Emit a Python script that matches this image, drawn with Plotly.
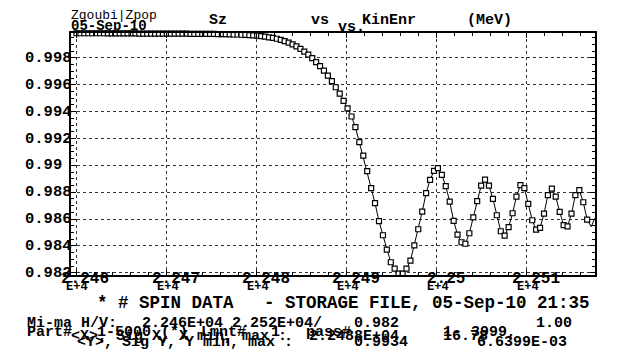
import plotly.graph_objects as go

# ---------------- data ----------------
energy_mev = [
    22460.00, 22460.44, 22460.87, 22461.31, 22461.74, 22462.18, 22462.62, 22463.05, 22463.49, 22463.92,
    22464.36, 22464.80, 22465.23, 22465.67, 22466.11, 22466.54, 22466.98, 22467.41, 22467.85, 22468.29,
    22468.72, 22469.16, 22469.59, 22470.03, 22470.47, 22470.90, 22471.34, 22471.77, 22472.21, 22472.65,
    22473.08, 22473.52, 22473.96, 22474.39, 22474.83, 22475.26, 22475.70, 22476.14, 22476.57, 22477.01,
    22477.44, 22477.88, 22478.32, 22478.75, 22479.19, 22479.62, 22480.06, 22480.50, 22480.93, 22481.37,
    22481.81, 22482.24, 22482.68, 22483.11, 22483.55, 22483.99, 22484.42, 22484.86, 22485.29, 22485.73,
    22486.17, 22486.60, 22487.04, 22487.47, 22487.91, 22488.35, 22488.78, 22489.22, 22489.65, 22490.09,
    22490.53, 22490.96, 22491.40, 22491.84, 22492.27, 22492.71, 22493.14, 22493.58, 22494.02, 22494.45,
    22494.89, 22495.32, 22495.76, 22496.20, 22496.63, 22497.07, 22497.50, 22497.94, 22498.38, 22498.81,
    22499.25, 22499.69, 22500.12, 22500.56, 22500.99, 22501.43, 22501.87, 22502.30, 22502.74, 22503.17,
    22503.61, 22504.05, 22504.48, 22504.92, 22505.35, 22505.79, 22506.23, 22506.66, 22507.10, 22507.53,
    22507.97, 22508.41, 22508.84, 22509.28, 22509.72, 22510.15, 22510.59, 22511.02, 22511.46, 22511.90,
    22512.33, 22512.77, 22513.20, 22513.64, 22514.08, 22514.51, 22514.95, 22515.38, 22515.82, 22516.26,
    22516.69, 22517.13, 22517.57,
]

sz = [
    0.99984, 0.99984, 0.99984, 0.99984, 0.99984, 0.99984, 0.99984, 0.99984, 0.99983, 0.99983,
    0.99983, 0.99983, 0.99983, 0.99983, 0.99983, 0.99983, 0.99982, 0.99982, 0.99982, 0.99982,
    0.99982, 0.99982, 0.99982, 0.99981, 0.99981, 0.99981, 0.99981, 0.99981, 0.99981, 0.99980,
    0.99980, 0.99980, 0.99980, 0.99979, 0.99979, 0.99979, 0.99978, 0.99978, 0.99977, 0.99976,
    0.99975, 0.99975, 0.99973, 0.99972, 0.99970, 0.99968, 0.99966, 0.99963, 0.99959, 0.99954,
    0.99949, 0.99943, 0.99935, 0.99925, 0.99914, 0.99901, 0.99886, 0.99868, 0.99847, 0.99825,
    0.99799, 0.99769, 0.99739, 0.99705, 0.99668, 0.99627, 0.99582, 0.99534, 0.99481, 0.99425,
    0.99364, 0.99285, 0.99173, 0.99073, 0.98957, 0.98830, 0.98718, 0.98584, 0.98479, 0.98372,
    0.98278, 0.98230, 0.98193, 0.98193, 0.98230, 0.98290, 0.98404, 0.98524, 0.98655, 0.98793,
    0.98892, 0.98959, 0.98979, 0.98929, 0.98845, 0.98730, 0.98586, 0.98484, 0.98427, 0.98416,
    0.98494, 0.98613, 0.98733, 0.98849, 0.98894, 0.98849, 0.98750, 0.98628, 0.98509, 0.98476,
    0.98539, 0.98643, 0.98767, 0.98852, 0.98830, 0.98713, 0.98591, 0.98521, 0.98534, 0.98640,
    0.98778, 0.98827, 0.98767, 0.98653, 0.98554, 0.98546, 0.98640, 0.98778, 0.98815, 0.98725,
    0.98596, 0.98543, 0.98608,
]
n_marked = 131  # points drawn with a marker; the last two are line only

x_tick_vals = [22460, 22470, 22480, 22490, 22500, 22510]
x_tick_text = ["2.246", "2.247", "2.248", "2.249", "2.25", "2.251"]
x_exp_text = ["E+4", "E+4", "E+4", "E+4", "E+4", "E+4"]
y_tick_vals = [0.982, 0.984, 0.986, 0.988, 0.990, 0.992, 0.994, 0.996, 0.998]
y_tick_text = ["0.982", "0.984", "0.986", "0.988", "0.99", "0.992", "0.994", "0.996", "0.998"]

x_range = [22459.39, 22517.56]
y_range = [0.98183, 0.99986]

# ---------------- figure ----------------
W, H = 617, 350
L, R, T, B = 63, 587, 25, 267
FONT = "Liberation Mono"

fig = go.Figure()
fig.add_trace(go.Scatter(x=energy_mev, y=sz, mode="lines",
                         line=dict(color="black", width=1), hoverinfo="skip"))
fig.add_trace(go.Scatter(x=energy_mev[:n_marked], y=sz[:n_marked], mode="markers",
                         cliponaxis=False,
                         marker=dict(symbol="square", size=5, color="white",
                                     line=dict(color="black", width=1.2)),
                         hoverinfo="skip"))

axis_common = dict(showline=True, linecolor="black", linewidth=1.5, mirror="ticks",
                   ticks="inside", ticklen=5, tickwidth=1, tickcolor="black",
                   showgrid=True, gridcolor="#333333", gridwidth=1, griddash="dot",
                   zeroline=False, automargin=False, showticklabels=False,
                   tickmode="array")

fig.update_layout(
    width=W, height=H, autosize=False,
    margin=dict(l=L, r=W - R, t=T, b=H - B, pad=0),
    paper_bgcolor="white", plot_bgcolor="white", showlegend=False,
    xaxis=dict(range=x_range, tickvals=x_tick_vals,
               minor=dict(dtick=2, tick0=22460, ticks="inside", ticklen=3,
                          tickcolor="black", showgrid=False),
               **axis_common),
    yaxis=dict(range=y_range, tickvals=y_tick_vals,
               minor=dict(dtick=0.0005, tick0=0.982, ticks="inside", ticklen=3,
                          tickcolor="black", showgrid=False),
               **axis_common),
)


def pfont(size, weight="bold"):
    return dict(family=FONT, size=size, color="black", weight=weight)


def ann(text, px, py, size=15, anchor="left", weight="bold"):
    return dict(text=text, x=(px - L) / (R - L), y=(B - py) / (B - T),
                xref="paper", yref="paper", xanchor=anchor, yanchor="middle",
                showarrow=False, borderpad=0, font=pfont(size, weight))


anns = []
# axis tick labels, placed on the axes' own scales
for v, t, e in zip(x_tick_vals, x_tick_text, x_exp_text):
    anns.append(dict(text=t, x=v, xref="x", y=(B - 271) / (B - T), yref="paper",
                     xanchor="center", yanchor="middle", xshift=9, showarrow=False,
                     borderpad=0, font=pfont(16)))
    anns.append(dict(text=e, x=v, xref="x", y=(B - 278.5) / (B - T), yref="paper",
                     xanchor="center", yanchor="middle", xshift=1, showarrow=False,
                     borderpad=0, font=pfont(12)))
for v, t in zip(y_tick_vals, y_tick_text):
    anns.append(dict(text=t, x=(16 - L) / (R - L), xref="paper", y=v, yref="y",
                     xanchor="left", yanchor="middle", showarrow=False,
                     borderpad=0, font=pfont(15.5)))

anns += [
    ann("Zgoubi|Zpop", 62, 7, size=13, weight="normal"),
    ann("05-Sep-10", 62, 18, size=14),
    ann("Sz", 200, 13),
    ann("vs", 302, 13),
    ann("vs.", 329, 19),
    ann("KinEnr", 353, 13),
    ann("(MeV)", 458, 13),
    ann("* # SPIN DATA", 88, 295, size=17.5),
    ann("- STORAGE FILE, 05-Sep-10 21:35", 583, 295, size=17.5, anchor="right"),
    ann("Mi-ma H/V:", 18, 315),
    ann("2.246E+04", 133, 315),
    ann("2.252E+04/", 223, 315),
    ann("0.982", 345, 315),
    ann("1.00", 527, 315),
    ann("Part#", 18, 324),
    ann("1-", 88, 324),
    ann("5000", 106, 324),
    ann("(*)", 152, 324),
    ann("Lmnt#", 192, 324),
    ann("1", 262, 324),
    ann("pass#", 297, 324),
    ann("1-", 434, 324),
    ann("3999,", 462, 324),
    ann("|", 600, 324),
    ann("<X>, Sig X, X min, max :", 62, 328),
    ann("2.2488E+04", 300, 328),
    ann("16.78", 434, 328),
    ann("<Y>, Sig Y, Y min, max :", 68, 334),
    ann("0.9934", 345, 334),
    ann("6.6399E-03", 468, 334),
]
fig.update_layout(annotations=anns)

fig.write_html("out.html")
